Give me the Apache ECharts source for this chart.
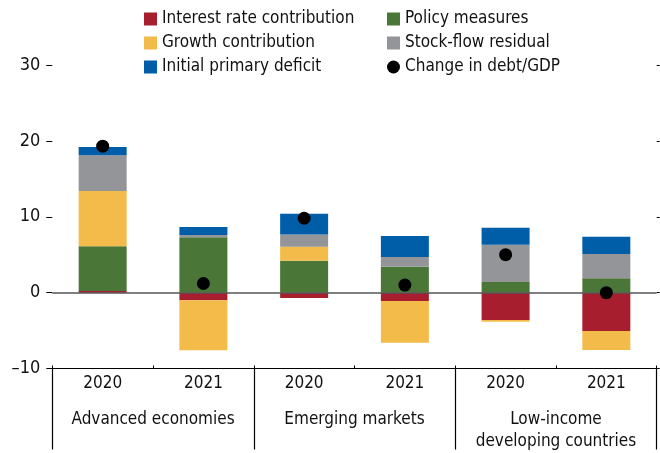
<!DOCTYPE html>
<html>
<head>
<meta charset="utf-8">
<script src="https://cdn.jsdelivr.net/npm/echarts@6/dist/echarts.min.js"></script>
<style>html,body{margin:0;padding:0;background:#fff;}#c{width:660px;height:453px;}</style>
</head>
<body>
<div id="c"></div>
<script>
const categories = ['2020', '2021', '2020', '2021', '2020', '2021'];
const groups = ['Advanced economies', 'Emerging markets', 'Low-income\ndeveloping countries'];
const yTicks = [-10, 0, 10, 20, 30];

const interestRate = [0.2, -1.0, -0.7, -1.1, -3.6, -5.05];
const policyMeasures = [5.9, 7.3, 4.2, 3.4, 1.4, 1.9];
const growth = [7.3, -6.6, 1.85, -5.5, -0.25, -2.5];
const stockFlow = [4.7, 0.3, 1.6, 1.3, 4.9, 3.2];
const primaryDeficit = [1.1, 1.05, 2.75, 2.75, 2.25, 2.25];
const changeDebt = [19.3, 1.2, 9.8, 1.0, 5.0, 0.0];

const FONT = '"Liberation Sans Narrow", "DejaVu Sans Condensed", "Arial Narrow", sans-serif';
const colors = {
  red: '#A71F2E', green: '#4A7637', yellow: '#F3BB4A', gray: '#939598', blue: '#005EA8'
};

function bar(name, data, color, extra) {
  return Object.assign({
    name: name, type: 'bar', stack: 'total', data: data, barWidth: 48,
    itemStyle: { color: color }, xAxisIndex: 0, yAxisIndex: 0
  }, extra || {});
}

const chart = echarts.init(document.getElementById('c'), null, { renderer: 'canvas' });
chart.setOption({
  animation: false,
  textStyle: { fontFamily: FONT },
  legend: [
    {
      left: 139, top: 5, orient: 'vertical', itemWidth: 13, itemHeight: 13, itemGap: 6,
      textStyle: { fontFamily: FONT, fontSize: 17, color: '#111', lineHeight: 18 },
      data: [
        { name: 'Interest rate contribution', icon: 'rect' },
        { name: 'Growth contribution', icon: 'rect' },
        { name: 'Initial primary deficit', icon: 'rect' }
      ]
    },
    {
      left: 382, top: 5, orient: 'vertical', itemWidth: 13, itemHeight: 13, itemGap: 6,
      textStyle: { fontFamily: FONT, fontSize: 17, color: '#111', lineHeight: 18 },
      data: [
        { name: 'Policy measures', icon: 'rect' },
        { name: 'Stock-flow residual', icon: 'rect' },
        { name: 'Change in debt/GDP', icon: 'circle' }
      ]
    }
  ],
  grid: { left: 52.3, right: 3.3, top: 65, bottom: 84.5, containLabel: false },
  xAxis: [
    {
      type: 'category', data: categories, position: 'bottom',
      axisLine: { show: true, onZero: false, lineStyle: { color: '#000', width: 1.2 } },
      axisTick: { show: true, inside: true, length: 3, lineStyle: { color: '#000' } },
      axisLabel: { fontFamily: FONT, fontSize: 17, color: '#111', margin: 7, interval: 0 }
    },
    {
      type: 'category', data: groups, position: 'bottom', offset: 0,
      axisLine: { show: false, onZero: false },
      axisTick: { show: true, length: 81, interval: 0, lineStyle: { color: '#000', width: 1.2 } },
      axisLabel: { fontFamily: FONT, fontSize: 17, color: '#111', margin: 40, lineHeight: 22, interval: 0 }
    }
  ],
  yAxis: [
    {
      type: 'value', min: yTicks[0], max: yTicks[yTicks.length - 1], interval: 10,
      axisLine: { show: false },
      axisTick: { show: true, length: 6, lineStyle: { color: '#000' } },
      splitLine: { show: false },
      axisLabel: {
        fontFamily: FONT, fontSize: 18, color: '#111', margin: 12,
        formatter: v => (v < 0 ? '\u2013' + Math.abs(v) : String(v))
      }
    },
    {
      type: 'value', min: yTicks[0], max: yTicks[yTicks.length - 1], interval: 10, position: 'right',
      axisLine: { show: false },
      axisTick: { show: true, length: 3, lineStyle: { color: '#000' } },
      splitLine: { show: false },
      axisLabel: { show: false }
    }
  ],
  series: [
    bar('Interest rate contribution', interestRate, colors.red),
    bar('Policy measures', policyMeasures, colors.green),
    bar('Growth contribution', growth, colors.yellow),
    bar('Stock-flow residual', stockFlow, colors.gray),
    bar('Initial primary deficit', primaryDeficit, colors.blue, {
      markLine: {
        silent: true, symbol: 'none', label: { show: false },
        lineStyle: { color: '#555', width: 1.6, type: 'solid' },
        data: [{ yAxis: 0 }]
      }
    }),
    {
      name: 'Change in debt/GDP', type: 'scatter', data: changeDebt, symbol: 'circle', symbolSize: 13,
      itemStyle: { color: '#000', opacity: 1 }, z: 5, xAxisIndex: 0, yAxisIndex: 0
    }
  ]
});
</script>
</body>
</html>
